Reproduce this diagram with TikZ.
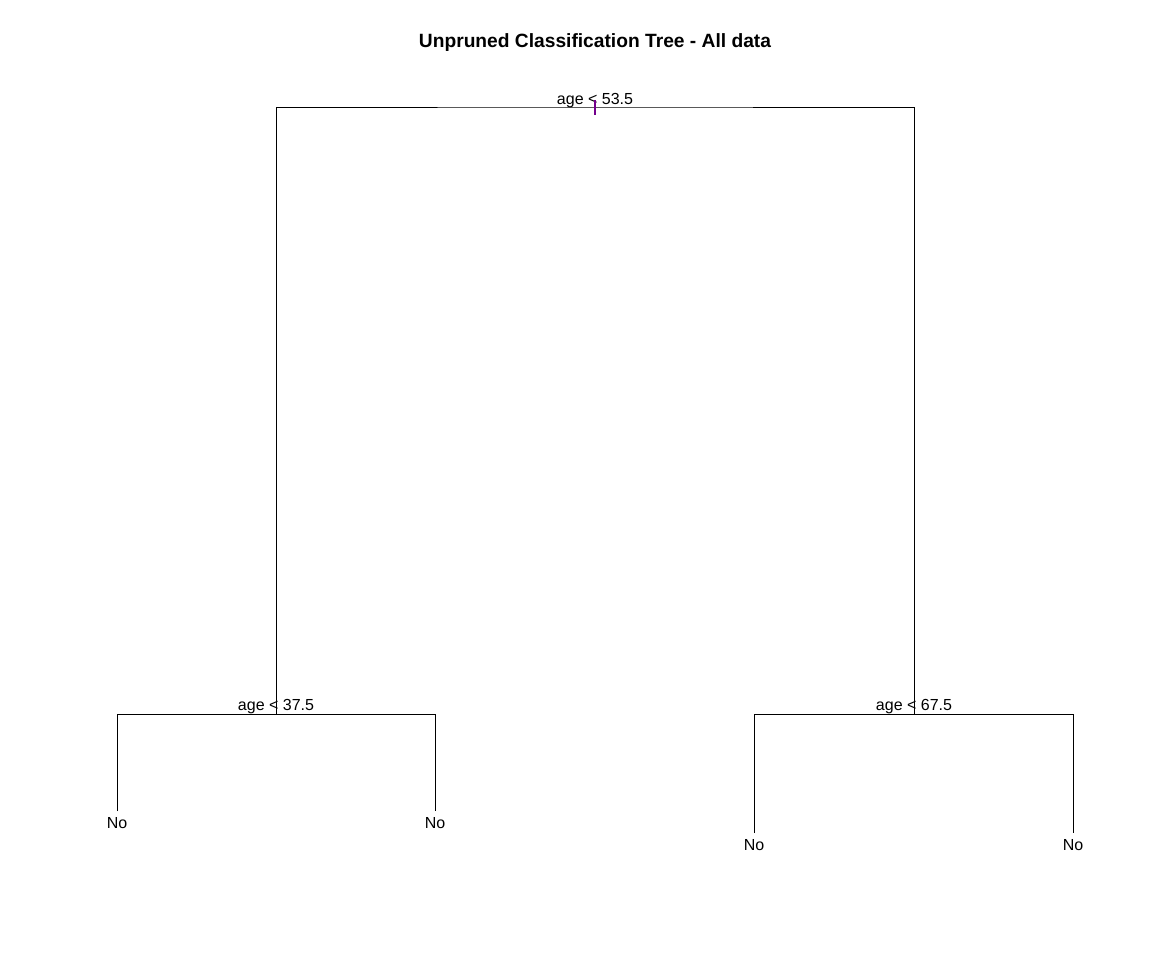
\documentclass[tikz,border=0pt]{standalone}
\usepackage{fontspec}
\setmainfont{Liberation Sans}
\usetikzlibrary{positioning}
\definecolor{tickpurple}{rgb}{0.45,0.0,0.55}
\tikzset{
  branch/.style={line width=0.75pt, black},
  splitlabel/.style={anchor=base, inner sep=0pt, font=\fontsize{12}{14}\selectfont},
  leaflabel/.style={inner sep=0pt, font=\fontsize{12}{14}\selectfont},
  rootmark/.style={line width=0.9pt, tickpurple}
}
\begin{document}
\begin{tikzpicture}[x=0.75pt, y=-0.75pt]
\useasboundingbox (0,0) rectangle (1152,960);
\node[anchor=base, font=\bfseries\fontsize{14.4}{17}\selectfont] (title) at (595,47.5) {Unpruned Classification Tree - All data};

% split points
\coordinate (root) at (595,107);
\coordinate (left) at (276,714);
\coordinate (right) at (914,714);
\node[splitlabel] (rootlab) at (595,104) {age < 53.5};
\node[splitlabel] (leftlab) at (276,710.5) {age < 37.5};
\node[splitlabel] (rightlab) at (914,710.5) {age < 67.5};

% leaves
\coordinate (ll) at (117,811);
\coordinate (lr) at (435,811);
\coordinate (rl) at (754,833);
\coordinate (rr) at (1073,833);
\node[leaflabel, below=4.5pt of ll] (llab) {No};
\node[leaflabel, below=4.5pt of lr] (lrlab) {No};
\node[leaflabel, below=4.5pt of rl] (rllab) {No};
\node[leaflabel, below=4.5pt of rr] (rrlab) {No};

% branches
\draw[branch] (left) |- (root) -| (right);
\draw[branch] (ll) |- (left) -| (lr);
\draw[branch] (rl) |- (right) -| (rr);
\draw[rootmark] (595,100) -- (595,115);
\end{tikzpicture}
\end{document}
